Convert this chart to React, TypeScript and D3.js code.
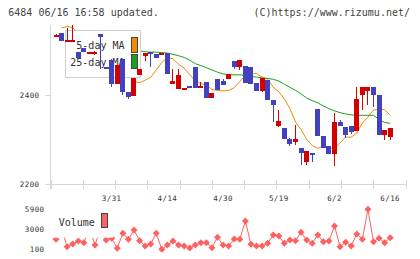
import React from 'react';
import * as d3 from 'd3';

// daily candles, oldest first (3/17 .. 6/16)
const opens = [
  2532, 2539, 2522, 2522, 2498, 2506, 2496, 2495, 2538, 2463,
  2479, 2425, 2481, 2408, 2398, 2445, 2488, 2497, 2492, 2492,
  2494, 2425, 2415, 2413, 2421, 2464, 2418, 2430, 2395, 2437,
  2433, 2437, 2477, 2463, 2466, 2463, 2427, 2410, 2434, 2389,
  2331, 2327, 2301, 2296, 2282, 2249, 2270, 2369, 2309, 2286,
  2268, 2340, 2329, 2331, 2320, 2400, 2410, 2419, 2400, 2311, 2307,
];
const highs = [
  2538, 2539, 2551, 2558, 2498, 2506, 2498, 2499, 2538, 2463,
  2481, 2468, 2481, 2408, 2440, 2459, 2495, 2497, 2492, 2494,
  2494, 2460, 2458, 2417, 2421, 2464, 2429, 2430, 2406, 2437,
  2437, 2448, 2477, 2479, 2466, 2463, 2427, 2440, 2434, 2389,
  2367, 2327, 2303, 2333, 2282, 2275, 2270, 2369, 2309, 2286,
  2360, 2345, 2329, 2331, 2419, 2419, 2419, 2419, 2400, 2323, 2327,
];
const lows = [
  2530, 2523, 2522, 2522, 2483, 2497, 2496, 2490, 2460, 2461,
  2419, 2425, 2400, 2392, 2398, 2445, 2478, 2464, 2484, 2492,
  2448, 2425, 2415, 2413, 2417, 2417, 2418, 2395, 2395, 2412,
  2423, 2437, 2460, 2457, 2428, 2425, 2410, 2408, 2389, 2341,
  2328, 2301, 2285, 2288, 2243, 2243, 2251, 2309, 2282, 2269,
  2241, 2330, 2305, 2314, 2320, 2367, 2379, 2373, 2311, 2300, 2299,
];
const closes = [
  2536, 2523, 2525, 2525, 2483, 2497, 2498, 2498, 2530, 2461,
  2425, 2468, 2408, 2397, 2440, 2459, 2495, 2492, 2484, 2494,
  2448, 2433, 2446, 2417, 2417, 2417, 2421, 2395, 2406, 2412,
  2423, 2448, 2464, 2479, 2428, 2425, 2410, 2440, 2389, 2378,
  2343, 2301, 2290, 2301, 2270, 2275, 2268, 2309, 2282, 2269,
  2339, 2330, 2311, 2318, 2392, 2419, 2419, 2400, 2311, 2323, 2327,
];

const ma5 = [
  null, 2551, 2555, 2552, 2540, 2518, 2510, 2505, 2500, 2501,
  2497, 2482, 2476, 2459, 2432, 2428, 2434, 2440, 2457, 2474,
  2485, 2482, 2470, 2461, 2447, 2432, 2426, 2424, 2413, 2411,
  2410, 2411, 2417, 2431, 2445, 2448, 2449, 2441, 2436, 2418,
  2408, 2392, 2370, 2340, 2323, 2301, 2287, 2281, 2285, 2281,
  2281, 2293, 2306, 2306, 2315, 2338, 2351, 2367, 2368, 2368, 2355,
];
const ma25 = [
  null, null, null, null, null, null, null, null, null, null,
  null, null, null, null, null, 2500, 2498, 2497, 2497, 2496,
  2495, 2492, 2489, 2485, 2479, 2471, 2467, 2462, 2457, 2452,
  2448, 2446, 2446, 2446, 2444, 2442, 2441, 2439, 2438, 2436,
  2432, 2425, 2418, 2411, 2403, 2394, 2388, 2383, 2376, 2370,
  2365, 2361, 2358, 2356, 2355, 2355, 2355, 2355, 2346, 2339, 2337,
];

const volumes = [
  1500, 3000, 440, 830, 1260, 1020, 3200, 680, 3000, 1400,
  1650, 200, 2370, 1500, 2850, 1310, 540, 830, 2370, 60,
  680, 1260, 680, 540, 250, 680, 1020, 1020, 290, 1790,
  680, 540, 1550, 1500, 4160, 780, 540, 540, 920, 2130,
  1990, 920, 1400, 1310, 2520, 1400, 920, 2130, 1160, 1260,
  3440, 440, 1070, 540, 2280, 1500, 5850, 1160, 1650, 1020, 1740,
];

const dateTicks = [10, 20, 30, 40, 50, 60];
const dateLabels = ['3/31', '4/14', '4/30', '5/19', '6/2', '6/16'];
const priceTicks = [2200, 2400];
const volumeTicks = [100, 3000, 5900];

const UP = '#d40000';
const DOWN = '#4242c0';
const MA5_COLOR = '#f08c00';
const MA25_COLOR = '#1ca01c';
const VOL_COLOR = '#ff6060';
const AXIS = '#d6d6d6';
const MONO = '"DejaVu Sans Mono", monospace';

export default function App() {
  const x = d3.scaleLinear().domain([0, 60]).range([56, 390.2]);
  const y = d3.scaleLinear().domain([2200, 2400]).range([184.3, 95.3]);
  const yv = d3.scaleLinear().domain([100, 5900]).range([249, 209]);
  const grid = d3.scaleLinear().domain([0, 11]).range([50.5, 405.5]);

  const maLine = d3
    .line<number | null>()
    .defined((d) => d !== null)
    .x((_, i) => x(i))
    .y((d) => y(d as number));

  const volLine = d3
    .line<number>()
    .x((_, i) => x(i))
    .y((d) => yv(d));

  const diamond = 'M0,-3.5L3.5,0L0,3.5L-3.5,0Z';

  return (
    <svg
      width={420}
      height={259}
      style={{ position: 'absolute', left: 0, top: 0, background: '#fff' }}
    >
      <text x={8.3} y={15.7} fontFamily={MONO} fontSize={10} fill="#444">
        6484 06/16 16:58 updated.
      </text>
      <text x={410} y={15.7} fontFamily={MONO} fontSize={10} fill="#444" textAnchor="end">
        (C)https://www.rizumu.net/
      </text>

      {/* axes */}
      <g shapeRendering="crispEdges" stroke={AXIS}>
        <line x1={50.5} x2={50.5} y1={25} y2={189} />
        <line x1={45} x2={406} y1={184.5} y2={184.5} />
        {d3.range(12).map((k) => (
          <line key={k} x1={Math.round(grid(k)) + 0.5} x2={Math.round(grid(k)) + 0.5} y1={180} y2={189} />
        ))}
        {priceTicks.map((p) => (
          <line key={p} x1={45} x2={50} y1={Math.round(y(p)) + 0.5} y2={Math.round(y(p)) + 0.5} />
        ))}
      </g>
      {priceTicks.map((p) => (
        <text key={p} x={39.5} y={y(p) + 2.6} fontFamily={MONO} fontSize={7.5} letterSpacing={0.4} fill="#333" textAnchor="end">
          {p}
        </text>
      ))}
      {dateTicks.map((d, k) => (
        <text key={d} x={x(d)} y={200.6} fontFamily={MONO} fontSize={7.5} letterSpacing={0.4} fill="#333" textAnchor="middle">
          {dateLabels[k]}
        </text>
      ))}

      {/* moving averages */}
      <path d={maLine(ma5) ?? ''} fill="none" stroke={MA5_COLOR} strokeWidth={1} />
      <path d={maLine(ma25) ?? ''} fill="none" stroke={MA25_COLOR} strokeWidth={1} />

      {/* legend */}
      <rect x={65.5} y={30.5} width={75} height={47} fill="#fff" stroke="#cfcfcf" shapeRendering="crispEdges" />
      <text x={124.5} y={49.3} fontFamily={MONO} fontSize={10} fill="#333" textAnchor="end">5-day MA</text>
      <text x={124.5} y={66.3} fontFamily={MONO} fontSize={10} fill="#333" textAnchor="end">25-day MA</text>
      <rect x={131.5} y={37.5} width={6} height={15} fill={MA5_COLOR} stroke="#444" shapeRendering="crispEdges" />
      <rect x={131.5} y={54.5} width={6} height={14} fill={MA25_COLOR} stroke="#444" shapeRendering="crispEdges" />

      {/* candles */}
      <g shapeRendering="crispEdges">
        {closes.map((c, i) => {
          const o = opens[i];
          const col = c >= o ? UP : DOWN;
          const left = Math.round(x(i) - 2.5);
          const top = Math.round(y(Math.max(o, c)));
          const bottom = Math.round(y(Math.min(o, c)));
          return (
            <g key={i}>
              <line
                x1={left + 2.5}
                x2={left + 2.5}
                y1={Math.round(y(highs[i]))}
                y2={Math.round(y(lows[i]))}
                stroke={col}
              />
              <rect x={left} y={top} width={5} height={Math.max(2, bottom - top)} fill={col} />
            </g>
          );
        })}
      </g>

      {/* volume */}
      {volumeTicks.map((v) => (
        <text key={v} x={44.5} y={yv(v) + 2.6} fontFamily={MONO} fontSize={7.5} letterSpacing={0.4} fill="#333" textAnchor="end">
          {v}
        </text>
      ))}
      <path d={volLine(volumes) ?? ''} fill="none" stroke={VOL_COLOR} strokeWidth={1} />
      {volumes.map((v, i) => (
        <path key={i} d={diamond} transform={`translate(${x(i)},${yv(v)})`} fill={VOL_COLOR} />
      ))}
      <rect x={50} y={202} width={63} height={35.7} fill="#fff" />
      <text x={58.7} y={225.5} fontFamily={MONO} fontSize={10} fill="#333">Volume</text>
      <rect x={101.5} y={213.5} width={6} height={14} fill={VOL_COLOR} stroke="#444" shapeRendering="crispEdges" />
    </svg>
  );
}
